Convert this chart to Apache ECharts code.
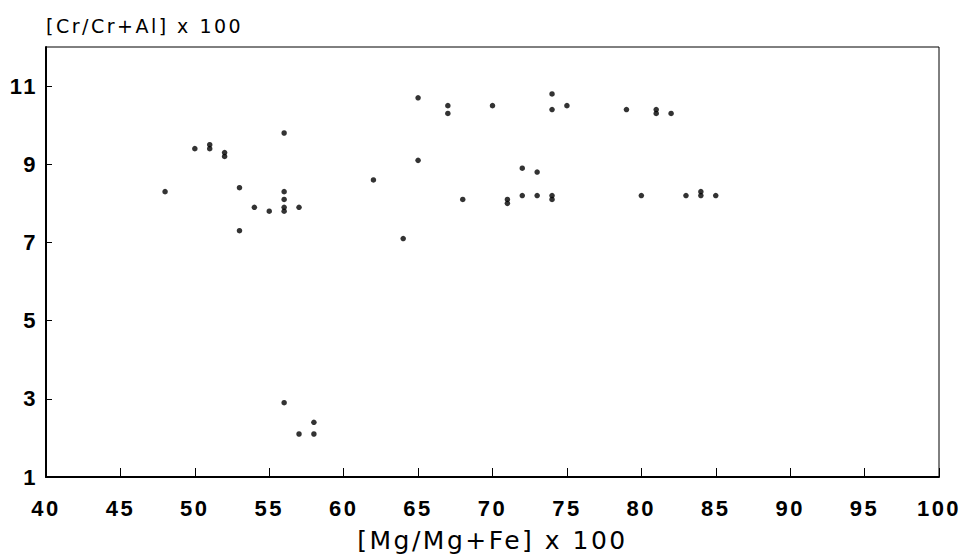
<!DOCTYPE html>
<html>
<head>
<meta charset="utf-8">
<script src="https://cdn.jsdelivr.net/npm/echarts@6/dist/echarts.min.js"></script>
<style>
html,body{margin:0;padding:0;background:#fff;}
#chart{width:962px;height:558px;}
#chart text{letter-spacing:2.5px;}
</style>
</head>
<body>
<div id="chart"></div>
<script>
// Mg/(Mg+Fe) x 100
var mgValues = [48, 50, 51, 51, 52, 52, 53, 53, 54, 55, 56, 56, 56, 56, 56, 57,
  56, 57, 58, 58, 62, 64, 65, 65, 67, 67, 68, 70, 71, 71, 72, 72, 73, 73,
  74, 74, 74, 74, 75, 79, 80, 81, 81, 82, 83, 84, 84, 85];
// Cr/(Cr+Al) x 100
var crValues = [8.3, 9.4, 9.4, 9.5, 9.2, 9.3, 8.4, 7.3, 7.9, 7.8, 9.8, 8.3, 8.1, 7.9, 7.8, 7.9,
  2.9, 2.1, 2.4, 2.1, 8.6, 7.1, 10.7, 9.1, 10.5, 10.3, 8.1, 10.5, 8.1, 8.0, 8.9, 8.2, 8.8, 8.2,
  10.8, 10.4, 8.2, 8.1, 10.5, 10.4, 8.2, 10.4, 10.3, 10.3, 8.2, 8.3, 8.2, 8.2];
var xTicks = [40, 45, 50, 55, 60, 65, 70, 75, 80, 85, 90, 95, 100];
var yTicks = [1, 3, 5, 7, 9, 11];
var xTitle = '[Mg/Mg+Fe] x 100';
var yTitle = '[Cr/Cr+Al] x 100';

var points = mgValues.map(function (x, i) { return [x, crValues[i]]; });

var chart = echarts.init(document.getElementById('chart'), null, {renderer: 'svg'});
chart.setOption({
  animation: false,
  backgroundColor: '#fff',
  grid: {
    left: 46, right: 23, top: 47, bottom: 80,
    show: true, borderColor: '#000', borderWidth: 1, backgroundColor: 'transparent'
  },
  xAxis: {
    type: 'value', min: 40, max: 100,
    name: xTitle, nameLocation: 'middle', nameGap: 51,
    nameTextStyle: {color: '#000', fontSize: 25, fontFamily: 'DejaVu Sans'},
    axisLine: {show: true, onZero: false, lineStyle: {color: '#000', width: 2}},
    axisTick: {show: true, inside: true, length: 9, customValues: xTicks, lineStyle: {color: '#000', width: 1}},
    axisLabel: {customValues: xTicks, color: '#000', fontSize: 22, fontWeight: 'bold', fontFamily: 'Liberation Sans', margin: 20},
    splitLine: {show: false}
  },
  yAxis: {
    type: 'value', min: 1, max: 12,
    name: yTitle, nameLocation: 'end', nameGap: 12,
    nameTextStyle: {color: '#000', fontSize: 19, fontFamily: 'DejaVu Sans', align: 'left', verticalAlign: 'bottom'},
    axisLine: {show: true, onZero: false, lineStyle: {color: '#000', width: 2}},
    axisTick: {show: true, inside: true, length: 6, customValues: yTicks, lineStyle: {color: '#000', width: 1}},
    axisLabel: {customValues: yTicks, color: '#000', fontSize: 22, fontWeight: 'bold', fontFamily: 'Liberation Sans', margin: 8},
    splitLine: {show: false}
  },
  series: [{
    type: 'scatter',
    data: points,
    symbol: 'circle',
    symbolSize: 5.5,
    itemStyle: {color: '#000'}
  }]
});
</script>
</body>
</html>
